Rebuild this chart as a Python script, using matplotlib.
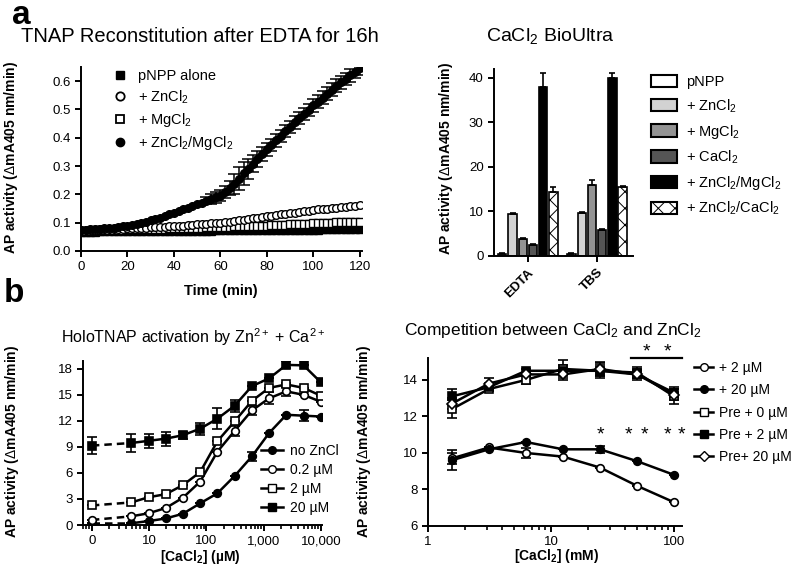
import matplotlib
matplotlib.use("Agg")
import matplotlib.pyplot as plt
from matplotlib.ticker import FixedLocator, LogLocator, NullFormatter
from matplotlib.patches import Patch
from matplotlib.lines import Line2D

plt.rcParams['font.family'] = ['Liberation Sans', 'DejaVu Sans']
plt.rcParams['mathtext.fontset'] = 'custom'
plt.rcParams['mathtext.rm'] = 'Liberation Sans'
plt.rcParams['mathtext.it'] = 'Liberation Sans:italic'
plt.rcParams['mathtext.bf'] = 'Liberation Sans:bold'
plt.rcParams['axes.linewidth'] = 1.4
plt.rcParams['xtick.major.width'] = 1.4
plt.rcParams['ytick.major.width'] = 1.4
plt.rcParams['xtick.minor.width'] = 1.2
plt.rcParams['xtick.major.size'] = 4
plt.rcParams['ytick.major.size'] = 4
plt.rcParams['xtick.minor.size'] = 3
plt.rcParams['hatch.linewidth'] = 0.7

W, H = 796, 572

# ---- panel a, left: kinetics (every 2 min)
time_min = list(range(0, 121, 2))
pnpp_alone = [.068, .068, .068, .068, .069, .069, .069, .069, .069, .069, .070,
              .070, .070, .070, .070, .070, .071, .071, .071, .071, .071, .071,
              .072, .072, .072, .072, .072, .072, .072, .073, .073, .073, .073,
              .073, .073, .073, .074, .074, .074, .074, .074, .074, .074, .075,
              .075, .075, .075, .075, .075, .075, .075, .075, .076, .076, .076,
              .076, .076, .076, .076, .076, .076]
plus_mg = [.072, .072, .072, .073, .073, .073, .074, .074, .075, .075, .076,
           .076, .076, .077, .077, .078, .078, .079, .079, .080, .080, .081,
           .081, .082, .082, .083, .083, .084, .084, .085, .085, .086, .086,
           .087, .087, .088, .088, .089, .089, .090, .090, .091, .092, .093,
           .093, .094, .095, .095, .096, .097, .098, .099, .099, .100, .100,
           .101, .102, .102, .103, .103, .104]
plus_zn = [.074, .074, .075, .075, .076, .076, .077, .078, .078, .079, .080,
           .081, .081, .082, .083, .084, .085, .085, .086, .087, .088, .089,
           .090, .091, .092, .094, .095, .096, .098, .099, .100, .102, .104,
           .107, .109, .111, .114, .116, .118, .121, .123, .125, .127, .130,
           .132, .134, .136, .139, .141, .143, .145, .147, .148, .150, .152,
           .153, .155, .156, .158, .159, .161]
plus_znmg = [.074, .075, .076, .077, .078, .080, .081, .083, .085, .087, .090,
             .093, .096, .100, .104, .109, .113, .118, .123, .129, .135, .141,
             .147, .153, .159, .165, .171, .177, .183, .189, .196, .208, .222,
             .238, .256, .274, .291, .308, .325, .342, .359, .375, .391, .407,
             .423, .439, .454, .469, .484, .499, .514, .528, .542, .556, .570,
             .584, .596, .608, .620, .632, .645]
plus_znmg_err = [0] * 27 + [.012, .018, .02, .02, .022, .025, .035, .04, .04,
                            .035, .03, .028, .025] + [.022] * 21

# ---- panel a, right: bars
groups = ['EDTA', 'TBS']
bar_labels = ['pNPP', '+ ZnCl$_{2}$', '+ MgCl$_{2}$', '+ CaCl$_{2}$',
              '+ ZnCl$_{2}$/MgCl$_{2}$', '+ ZnCl$_{2}$/CaCl$_{2}$']
bar_edta = [0.5, 9.5, 3.8, 2.4, 38.0, 14.3]
bar_edta_err = [0.1, 0.2, 0.3, 0.2, 3.0, 1.3]
bar_tbs = [0.5, 9.7, 16.0, 5.9, 40.0, 15.5]
bar_tbs_err = [0.1, 0.2, 1.0, 0.2, 1.0, 0.3]
bar_colors = ['white', '#d2d2d2', '#939393', '#555555', 'black', 'white']
bar_hatch = [None, None, None, None, None, 'xx']

# ---- panel b, left: CaCl2 titration (uM); 0 is drawn at the "0" tick
ca_um = [0, 4.88, 9.77, 19.5, 39.1, 78.1, 156, 312.5, 625, 1250, 2500, 5000, 10000]
no_zn = [0.2, 0.2, 0.45, 0.75, 1.3, 2.5, 3.65, 5.65, 7.9, 10.6, 12.7, 12.6, 12.5]
no_zn_err = [0, 0, 0, 0, 0, 0, 0, 0, 0.5, 0, 0, 0.6, 0]
zn_02 = [0.58, 1.0, 1.35, 1.95, 3.15, 5.0, 8.45, 10.85, 13.2, 14.6, 15.4, 15.0, 14.2]
zn_02_err = [0, 0, 0, 0, 0, 0, 0, 0.6, 0.5, 0.7, 0.5, 0, 0]
zn_2 = [2.25, 2.6, 3.2, 3.55, 4.6, 6.1, 9.65, 11.95, 14.3, 15.8, 16.2, 15.8, 14.9]
zn_2_err = [0, 0, 0, 0, 0, 0, 0, 0, 0, 0, 0.2, 0, 0]
zn_20 = [9.15, 9.45, 9.7, 9.95, 10.35, 11.1, 12.25, 13.75, 16.0, 16.9, 18.45, 18.4, 16.45]
zn_20_err = [1.0, 1.0, 0.8, 0.8, 0.4, 0.7, 1.2, 0.7, 0, 0, 0.4, 0, 0]

# ---- panel b, right: competition (mM)
ca_mm = [1.5625, 3.125, 6.25, 12.5, 25, 50, 100]
add_2 = [9.7, 10.3, 10.0, 9.8, 9.2, 8.2, 7.3]
add_2_err = [0.3, 0, 0.25, 0, 0, 0, 0]
add_20 = [9.6, 10.2, 10.6, 10.2, 10.2, 9.55, 8.8]
add_20_err = [0.55, 0, 0, 0, 0.2, 0, 0]
pre_0 = [12.4, 13.5, 14.0, 14.6, 14.5, 14.4, 13.1]
pre_0_err = [0.5, 0.1, 0.2, 0.5, 0.4, 0.3, 0.4]
pre_2 = [13.1, 13.6, 14.5, 14.5, 14.5, 14.3, 13.3]
pre_2_err = [0.4, 0.1, 0.1, 0.3, 0.3, 0.2, 0.3]
pre_20 = [12.7, 13.8, 14.3, 14.3, 14.6, 14.3, 13.2]
pre_20_err = [0.3, 0.3, 0.1, 0.3, 0.4, 0.3, 0.3]
star_low_x = [25, 42.6, 57, 88, 114]
star_high_x = [60, 88]


def box(l, t, r, b):
    return [l / W, 1 - b / H, (r - l) / W, (b - t) / H]


def fxy(x, y):
    return x / W, 1 - y / H


def clean(ax):
    ax.spines['top'].set_visible(False)
    ax.spines['right'].set_visible(False)
    ax.tick_params(labelsize=9.5, direction='out')


ylab = 'AP activity ($\\Delta$mA405 nm/min)'
fig = plt.figure(figsize=(W / 100, H / 100), dpi=100)

# ================= a left
ax1 = fig.add_axes(box(81, 67, 362, 251))
clean(ax1)
ax1.plot(time_min, pnpp_alone, 's', color='black', ms=5.5, ls='none')
ax1.plot(time_min, plus_mg, 's', mfc='white', mec='black', mew=1, ms=5.5, ls='none')
ax1.plot(time_min, plus_zn, 'o', mfc='white', mec='black', mew=1, ms=5.5, ls='none')
ax1.errorbar(time_min, plus_znmg, yerr=plus_znmg_err, fmt='o', color='black',
             ms=5.5, capsize=4.5, elinewidth=1.1, capthick=1.1)
ax1.set_xlim(0, 121)
ax1.set_ylim(0, 0.65)
ax1.set_xticks([0, 20, 40, 60, 80, 100, 120])
ax1.set_yticks([0, .1, .2, .3, .4, .5, .6])
ax1.set_yticklabels(['0.0', '0.1', '0.2', '0.3', '0.4', '0.5', '0.6'])
h1 = [Line2D([], [], marker='s', color='black', ls='none', ms=6),
      Line2D([], [], marker='o', mfc='white', mec='black', mew=1.3, ls='none', ms=6),
      Line2D([], [], marker='s', mfc='white', mec='black', mew=1.3, ls='none', ms=6),
      Line2D([], [], marker='o', color='black', ls='none', ms=6)]
ax1.legend(h1, ['pNPP alone', '+ ZnCl$_{2}$', '+ MgCl$_{2}$', '+ ZnCl$_{2}$/MgCl$_{2}$'],
           loc='upper left', bbox_to_anchor=fxy(113, 69), bbox_transform=fig.transFigure,
           frameon=False, fontsize=10.5, handlelength=1.0, handletextpad=0.7,
           labelspacing=0.35, borderpad=0, borderaxespad=0)
fig.text(*fxy(200, 37), 'TNAP Reconstitution after EDTA for 16h', ha='center', va='center', fontsize=14.5)
fig.text(*fxy(221, 291), 'Time (min)', ha='center', va='center', fontsize=10.5, fontweight='bold')
fig.text(*fxy(11, 157), ylab, ha='center', va='center', rotation=90, fontsize=10, fontweight='bold')

# ================= a right
ax2 = fig.add_axes(box(494, 69, 633, 256))
clean(ax2)
bw = 0.12
step = 0.148
for i in range(len(bar_labels)):
    off = (i - 2.5) * step
    vals = [bar_edta[i], bar_tbs[i]]
    errs = [bar_edta_err[i], bar_tbs_err[i]]
    ax2.bar([g + off for g in range(len(groups))], vals, width=bw, color=bar_colors[i],
            edgecolor='black', linewidth=1.2, hatch=bar_hatch[i],
            yerr=[[0, 0], errs], capsize=2.5, error_kw=dict(elinewidth=1.2, capthick=1.2))
ax2.set_xlim(-0.49, 1.52)
ax2.set_ylim(0, 42)
ax2.set_yticks([0, 10, 20, 30, 40])
ax2.set_xticks([0, 1])
ax2.set_xticklabels(groups, rotation=45, ha='right', rotation_mode='anchor',
                    fontweight='bold', fontsize=9.5)
h2 = [Patch(facecolor=c, edgecolor='black', linewidth=1.5, hatch=h)
      for c, h in zip(bar_colors, bar_hatch)]
ax2.legend(h2, bar_labels, loc='upper left', bbox_to_anchor=fxy(651, 75),
           bbox_transform=fig.transFigure, frameon=False, fontsize=10.5,
           handlelength=1.8, handleheight=0.9, handletextpad=0.6,
           labelspacing=0.55, borderpad=0, borderaxespad=0)
fig.text(*fxy(550, 36), 'CaCl$_{2}$ BioUltra', ha='center', va='center', fontsize=14)
fig.text(*fxy(446, 158), ylab, ha='center', va='center', rotation=90, fontsize=10, fontweight='bold')

# ================= b left
ax3 = fig.add_axes(box(83, 361, 322, 525))
clean(ax3)
xb = [1 if c == 0 else c for c in ca_um]  # "0" sits one decade below 10
series_b = [(no_zn, no_zn_err, 'o', 'black'), (zn_02, zn_02_err, 'o', 'white'),
            (zn_2, zn_2_err, 's', 'white'), (zn_20, zn_20_err, 's', 'black')]
for ys, es, mk, fc in series_b:
    ax3.plot(xb[:2], ys[:2], '--', color='black', lw=1.8, dashes=(3, 2))
    ax3.errorbar(xb[1:], ys[1:], yerr=es[1:], fmt='-', color='black', lw=1.8,
                 capsize=3.5, elinewidth=1.2, capthick=1.2)
    ax3.errorbar(xb[:1], ys[:1], yerr=es[:1], fmt='none', ecolor='black',
                 capsize=3.5, elinewidth=1.2, capthick=1.2)
    ax3.plot(xb, ys, mk, mfc=fc, mec='black', mew=1.2, ms=5.5, ls='none', zorder=5)
ax3.set_xscale('log')
ax3.set_xlim(0.70, 10500)
ax3.set_ylim(0, 18.9)
ax3.set_yticks([0, 3, 6, 9, 12, 15, 18])
ax3.xaxis.set_major_locator(FixedLocator([1, 10, 100, 1000, 10000]))
ax3.set_xticklabels(['0', '10', '100', '1,000', '10,000'])
ax3.xaxis.set_minor_locator(LogLocator(base=10, subs=range(2, 10)))
ax3.xaxis.set_minor_formatter(NullFormatter())
h3 = [Line2D([], [], color='black', lw=1.8, marker=mk, mfc=fc, mec='black', ms=5.5)
      for _, _, mk, fc in series_b]
ax3.legend(h3, ['no ZnCl', '0.2 µM', '2 µM', '20 µM'], loc='upper left',
           bbox_to_anchor=fxy(261, 444), bbox_transform=fig.transFigure, frameon=False,
           fontsize=10, handlelength=1.6, handletextpad=0.5, labelspacing=0.35,
           borderpad=0, borderaxespad=0)
fig.text(*fxy(193, 337), 'HoloTNAP activation by Zn$^{\\mathregular{2+}}$ + Ca$^{\\mathregular{2+}}$',
         ha='center', va='center', fontsize=11.5)
fig.text(*fxy(200, 557), '[CaCl$_{\\mathbf{2}}$] (µM)', ha='center', va='center', fontsize=10, fontweight='bold')
fig.text(*fxy(12, 441), ylab, ha='center', va='center', rotation=90, fontsize=10, fontweight='bold')

# ================= b right
ax4 = fig.add_axes(box(428, 358, 682, 526))
clean(ax4)
series_c = [(add_2, add_2_err, 'o', 'white', '+ 2 µM'),
            (add_20, add_20_err, 'o', 'black', '+ 20 µM'),
            (pre_0, pre_0_err, 's', 'white', 'Pre + 0 µM'),
            (pre_2, pre_2_err, 's', 'black', 'Pre + 2 µM'),
            (pre_20, pre_20_err, 'D', 'white', 'Pre+ 20 µM')]
for ys, es, mk, fc, lab in series_c:
    ax4.errorbar(ca_mm, ys, yerr=es, fmt='-', color='black', lw=1.8,
                 capsize=3.5, elinewidth=1.2, capthick=1.2)
    ax4.plot(ca_mm, ys, mk, mfc=fc, mec='black', mew=1.2,
             ms=4.8 if mk == 'D' else 5.5, ls='none', zorder=5)
ax4.set_xscale('log')
ax4.set_xlim(1, 116)
ax4.set_ylim(6, 15.2)
ax4.set_yticks([6, 8, 10, 12, 14])
ax4.xaxis.set_major_locator(FixedLocator([1, 10, 100]))
ax4.set_xticklabels(['1', '10', '100'])
ax4.xaxis.set_minor_locator(LogLocator(base=10, subs=range(2, 10)))
ax4.xaxis.set_minor_formatter(NullFormatter())
for sx in star_low_x:
    ax4.text(sx, 11.0, '*', ha='center', va='center', fontsize=14, clip_on=False)
for sx in star_high_x:
    ax4.text(sx, 15.55, '*', ha='center', va='center', fontsize=14, clip_on=False)
ax4.plot([44.5, 116], [15.2, 15.2], color='black', lw=1.6, clip_on=False)
h4 = [Line2D([], [], color='black', lw=1.8, marker=mk, mfc=fc, mec='black',
             ms=4.8 if mk == 'D' else 5.5) for _, _, mk, fc, _ in series_c]
ax4.legend(h4, [s[4] for s in series_c], loc='upper left', bbox_to_anchor=fxy(694, 361),
           bbox_transform=fig.transFigure, frameon=False, fontsize=10,
           handlelength=1.4, handletextpad=0.4, labelspacing=0.6,
           borderpad=0, borderaxespad=0)
fig.text(*fxy(553, 330), 'Competition between CaCl$_{2}$ and ZnCl$_{2}$', ha='center', va='center', fontsize=12.5)
fig.text(*fxy(557, 556), '[CaCl$_{\\mathbf{2}}$] (mM)', ha='center', va='center', fontsize=10, fontweight='bold')
fig.text(*fxy(364, 441), ylab, ha='center', va='center', rotation=90, fontsize=10, fontweight='bold')

fig.text(*fxy(21, 15), 'a', ha='center', va='center', fontsize=24, fontweight='bold')
fig.text(*fxy(14, 294), 'b', ha='center', va='center', fontsize=24, fontweight='bold')

fig.savefig('out.png', dpi=100)
